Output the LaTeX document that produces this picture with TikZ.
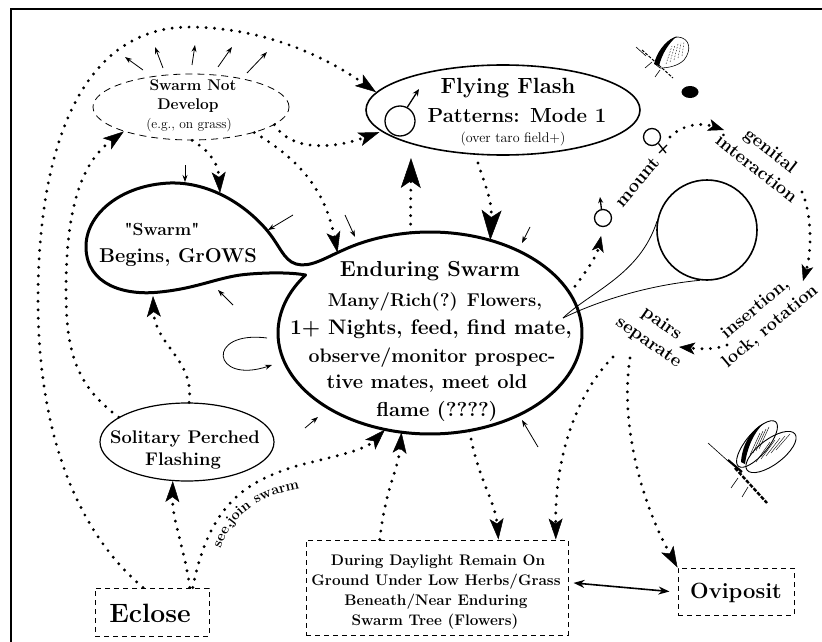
\documentclass[tikz,border=0pt]{standalone}
\usepackage{fontspec}
\usetikzlibrary{arrows.meta,shapes.geometric,decorations.text}
\newcommand\setfs[1]{\fontsize{#1}{#1}\selectfont}
\begin{document}
\begin{tikzpicture}[x=1pt,y=-1pt,
  dotarr/.style={line width=3.2pt,dash pattern=on 0pt off 8.5pt,line cap=round,
    -{Stealth[length=21pt,width=14pt,inset=5pt,line width=0.5pt]}},
  bigdot/.style={dotarr,-{Stealth[length=30pt,width=20pt,inset=7pt,line width=0.5pt]}},
  smalldot/.style={dotarr,-{Stealth[length=16pt,width=12pt,inset=4pt,line width=0.5pt]}},
  thinarr/.style={line width=0.8pt,-{Stealth[length=7pt,width=5pt]}},
  dashbox/.style={draw,line width=1pt,dash pattern=on 5pt off 4pt,rectangle,inner sep=0pt},
  lbl/.style={anchor=base,inner sep=0pt},
  bsz/.style={font=\bfseries\setfs{#1}},
  rsz/.style={font=\setfs{#1}},
  outl/.style={line width=3pt,line join=round},
  sym/.style={circle,draw,line width=1.3pt,inner sep=0pt},
  wing/.style={ellipse,draw,line width=0.9pt,inner sep=0pt},
]
\useasboundingbox (0,0) rectangle (822,642);
% frame
\draw[line width=2pt] (11,642) -- (11,9) -- (822,9);

% ---------- nodes ----------
\node[ellipse,draw,line width=0.8pt,dash pattern=on 7pt off 5pt,minimum width=196pt,minimum height=66pt,inner sep=0pt] (snd) at (191,107) {};
\node[lbl,bsz=15.5] (snd1) at (193,90) {Swarm Not};
\node[lbl,bsz=15.5] (snd2) at (188,110) {Develop};
\node[lbl,rsz=13.5] (snd3) at (189,128) {(e.g., on grass)};

\node[ellipse,draw,line width=1.6pt,minimum width=274pt,minimum height=90pt,inner sep=0pt] (ff) at (503,110) {};
\node[lbl,bsz=22] (ff1) at (508,93) {Flying Flash};
\node[lbl,bsz=20.4] (ff2) at (517,122) {Patterns: Mode 1};
\node[lbl,rsz=14] (ff3) at (513,142) {(over taro field+)};
\node[sym,minimum size=30pt] (ffm) at (400,121) {};
\coordinate (ffmtip) at (419,89);
\draw[line width=1.3pt,-{Stealth[length=7pt,width=6pt]}] (ffm.62) -- (ffmtip);

% Enduring swarm + "Swarm" blob outline
\node[ellipse,minimum width=304pt,minimum height=202pt,inner sep=0pt] (es) at (430,333) {};
\draw[outl] plot[domain=145:485,samples=160,variable=\t] ({430+152*cos(\t)},{333-101*sin(\t)})
  .. controls (325,258) and (310,268) .. (296,264)
  .. controls (283,260) and (280,245) .. (265,228)
  .. controls (240,200) and (205,182) .. (170,183)
  .. controls (120,185) and (85,215) .. (86,248)
  .. controls (87,285) and (125,296) .. (160,292)
  .. controls (200,288) and (220,276) .. (250,274)
  .. controls (275,272) and (295,273) .. (305.5,275) -- cycle;
\node[lbl,bsz=17.5] (sw1) at (162,235) {\textquotedbl Swarm\textquotedbl};
\node[lbl,bsz=20] (sw2) at (178,262) {Begins, GrOWS};

\node[lbl,bsz=21.7] (es1) at (430,276) {Enduring Swarm};
\node[lbl,bsz=18.5] (es2) at (435,306) {Many/Rich(?) Flowers,};
\node[lbl,bsz=21] (es3) at (431,334) {1+ Nights, feed, find mate,};
\node[lbl,bsz=19.5] (es4) at (432,362) {observe/monitor prospec-};
\node[lbl,bsz=20] (es5) at (427,388) {tive mates, meet old};
\node[lbl,bsz=20.2] (es6) at (437,416) {flame (????)};

\node[ellipse,draw,line width=1.2pt,minimum width=174pt,minimum height=78pt,inner sep=0pt] (sp) at (187,442) {};
\node[lbl,bsz=18.3] (sp1) at (185,443) {Solitary Perched};
\node[lbl,bsz=18.3] (sp2) at (183,465) {Flashing};

\node[dashbox,minimum width=114pt,minimum height=48pt] (ec) at (152,612) {};
\node[lbl,bsz=26.5] (ect) at (150,622) {Eclose};

\node[dashbox,minimum width=262pt,minimum height=95pt] (dl) at (437,587.5) {};
\node[lbl,bsz=15.3] (dl1) at (438,565) {During Daylight Remain On};
\node[lbl,bsz=15.3] (dl2) at (436,585) {Ground Under Low Herbs/Grass};
\node[lbl,bsz=15.3] (dl3) at (436,605) {Beneath/Near Enduring};
\node[lbl,bsz=15.3] (dl4) at (435,625) {Swarm Tree (Flowers)};

\node[dashbox,minimum width=116pt,minimum height=47pt] (ov) at (736,591.5) {};
\node[lbl,bsz=22] (ovt) at (736,598) {Oviposit};

% big circle and its tail
\node[circle,draw,line width=1.6pt,minimum size=100pt,inner sep=0pt] (bc) at (707,230) {};
\coordinate (tp) at (563,318);
\draw[line width=0.8pt] (tp) .. controls (590,292) and (640,275) .. (bc.170);
\draw[line width=0.8pt] (tp) .. controls (600,300) and (650,285) .. (bc.262);

% mating sequence symbols and labels
\node[sym,minimum size=17pt] (mm) at (603,218) {};
\coordinate (mmtip) at (600,197);
\draw[line width=1.3pt,-{Stealth[length=6pt,width=5pt]}] (mm.100) -- (mmtip);
\node[sym,minimum size=17pt] (fm) at (652,137) {};
\coordinate (fmend) at (666,153);
\draw[line width=1.3pt] (fm.-45) -- (fmend);
\draw[line width=1.3pt] (659,153) -- (667,145);
\node[ellipse,fill,minimum width=17pt,minimum height=12pt,inner sep=0pt] (dot) at (690,92) {};

\node[bsz=18.5,rotate=50,inner sep=0pt] (mnt) at (637,182) {mount};
\node[font=\bfseries\fontsize{18.5}{23}\selectfont,align=center,rotate=-38,inner sep=0pt] (gi) at (764,159) {genital\\interaction};
\node[font=\bfseries\fontsize{18}{23}\selectfont,align=center,rotate=40,inner sep=0pt] (ins) at (763,318) {insertion,\\lock, rotation};
\node[font=\bfseries\fontsize{18.5}{23}\selectfont,align=center,rotate=-35,inner sep=0pt] (ps) at (655,333) {pairs\\separate};

% ---------- dotted connectors ----------
% A: Eclose -> Flying Flash (outer loop)
\draw[dotarr] (ec.110) .. controls (75,530) and (38,430) .. (38,300)
  .. controls (38,150) and (80,27) .. (190,27)
  .. controls (270,28) and (330,60) .. (ff.172);
% B: Solitary -> Swarm Not Develop
\draw[dotarr] (sp.160) .. controls (75,385) and (66,350) .. (66,290)
  .. controls (66,200) and (85,160) .. (snd.200);
% C: Solitary -> "Swarm" blob
\coordinate (cend) at (153,296);
\draw[dotarr] (sp.87) .. controls (195,360) and (155,345) .. (cend);
% D: Eclose -> Solitary
\draw[dotarr] (ec.33) .. controls (185,550) and (172,520) .. (sp.-110);
% E: Eclose -> Enduring (see, join swarm)
\draw[dotarr] (ec.31) .. controls (210,500) and (250,480) .. (300,465)
  .. controls (340,455) and (365,450) .. (es.245);
\path[decorate,decoration={text along path,text align=center,
  text={|\bfseries\setfs{14.5}|see{,}join swarm}}]
  (218,558) .. controls (228,515) and (258,494) .. (310,487);
% F: Daylight -> Enduring
\draw[dotarr] (dl.140) .. controls (385,490) and (398,470) .. (es.254);
% G: Enduring -> Daylight
\draw[dotarr] (es.292) .. controls (478,480) and (495,500) .. (dl.38);
% H, I: pairs separate -> Daylight / Oviposit
\coordinate (hs) at (613,357);
\coordinate (is) at (630,358);
\draw[dotarr] (hs) .. controls (580,390) and (555,450) .. (dl.22);
\draw[dotarr] (is) .. controls (620,420) and (640,500) .. (ov.north west);
% J, K: Enduring <-> Flying Flash
\coordinate (jend) at (411,158);
\coordinate (kst) at (478,163);
\draw[bigdot] (es.101) -- (jend);
\draw[bigdot] (kst) .. controls (485,185) and (492,200) .. (es.57);
% L, M, N from Swarm Not Develop
\coordinate (lend) at (220,193);
\draw[dotarr] (snd.-88) .. controls (205,148) and (218,160) .. (lend);
\draw[dotarr] (snd.-22) .. controls (300,160) and (325,190) .. (es.139);
\draw[dotarr,shorten >=2pt] (snd.-12) .. controls (290,150) and (330,150) .. (ff.190);
% O: Enduring -> mount
\draw[smalldot,shorten >=9pt] (es.16) .. controls (588,270) and (597,255) .. (mm.south);
% P, Q, R: mating sequence
\coordinate (pst) at (670,137);
\coordinate (pend) at (724,130);
\draw[smalldot] (pst) .. controls (682,125) and (700,122) .. (pend);
\coordinate (qst) at (802,192);
\coordinate (qend) at (803,281);
\draw[smalldot] (qst) .. controls (812,215) and (812,250) .. (qend);
\coordinate (rst) at (727,345);
\coordinate (rend) at (679,347);
\draw[smalldot] (rst) .. controls (715,350) and (700,349) .. (rend);

% double arrow Daylight <-> Oviposit
\draw[line width=1.6pt,{Stealth[length=11pt,width=8pt]}-{Stealth[length=11pt,width=8pt]}]
  ([xshift=5pt]dl.2) -- ([xshift=-8pt]ov.west);

% ---------- thin arrows ----------
\foreach \ax/\ay/\bx/\by in {143/70/125/57, 163/68/155/47, 192/65/195/45, 218/67/232/47, 247/73/267/52}
  {\draw[thinarr] (\ax,\ay) -- (\bx,\by);}
\draw[thinarr] (185,165) -- (185,182);
\draw[thinarr] (293,215) -- (268,230);
\draw[thinarr] (345,215) -- (355,237);
\draw[thinarr] (233,305) -- (218,290);
\draw[thinarr] (530,227) -- (522,243);
\draw[thinarr] (305,428) -- (318,417);
\draw[thinarr] (538,447) -- (522,420);
% self loop
\draw[thinarr] (267,338) .. controls (205,330) and (212,385) .. (272,365);

% ---------- fireflies ----------
\begin{scope}[line width=0.6pt]
  \draw (655,64) .. controls (660,48) and (668,38) .. (678,37) .. controls (690,38) and (692,50) .. (684,60) .. controls (678,66) and (668,68) .. (660,68) -- cycle;
  \fill (654,64) .. controls (657,52) and (664,42) .. (677,36) .. controls (668,44) and (662,54) .. (659,66) -- cycle;
  \foreach \i in {0,...,4} \draw[line width=0.4pt,dash pattern=on 1.5pt off 1.5pt] (666+4*\i,64-2*\i) -- (672+3*\i,46-1*\i);
  \draw[line width=1pt,dash pattern=on 3pt off 1.5pt] (642,50) -- (673,78);
  \draw (636,47) -- (646,56);
  \draw (652,62) -- (645,68);
  \draw (660,70) -- (655,77);
\end{scope}
\begin{scope}[line width=0.8pt]
  \node[wing,minimum width=58pt,minimum height=22pt,rotate=50] (w1) at (757,444) {};
  \node[wing,minimum width=60pt,minimum height=25pt,rotate=37] (w2) at (771,452) {};
  \fill (741,462) .. controls (742,446) and (750,430) .. (764,423) .. controls (754,432) and (747,448) .. (745,464) -- cycle;
  \foreach \i in {0,...,4} \draw[line width=0.4pt] (756+5*\i,462-3*\i) -- (770+5*\i,442-2*\i);
  \foreach \i in {0,...,3} \draw[line width=0.4pt] (750+3*\i,455-2*\i) -- (760+3*\i,433-2*\i);
  \draw[line width=2.4pt,dash pattern=on 4pt off 1.5pt] (735,468) -- (767,503);
  \draw[line width=2.2pt] (728,460) -- (742,472);
  \draw[line width=0.6pt] (708,443) -- (728,461);
  \draw[line width=0.6pt] (738,478) -- (731,488);
  \draw[line width=0.6pt] (748,487) -- (742,497);
\end{scope}
\end{tikzpicture}
\end{document}
